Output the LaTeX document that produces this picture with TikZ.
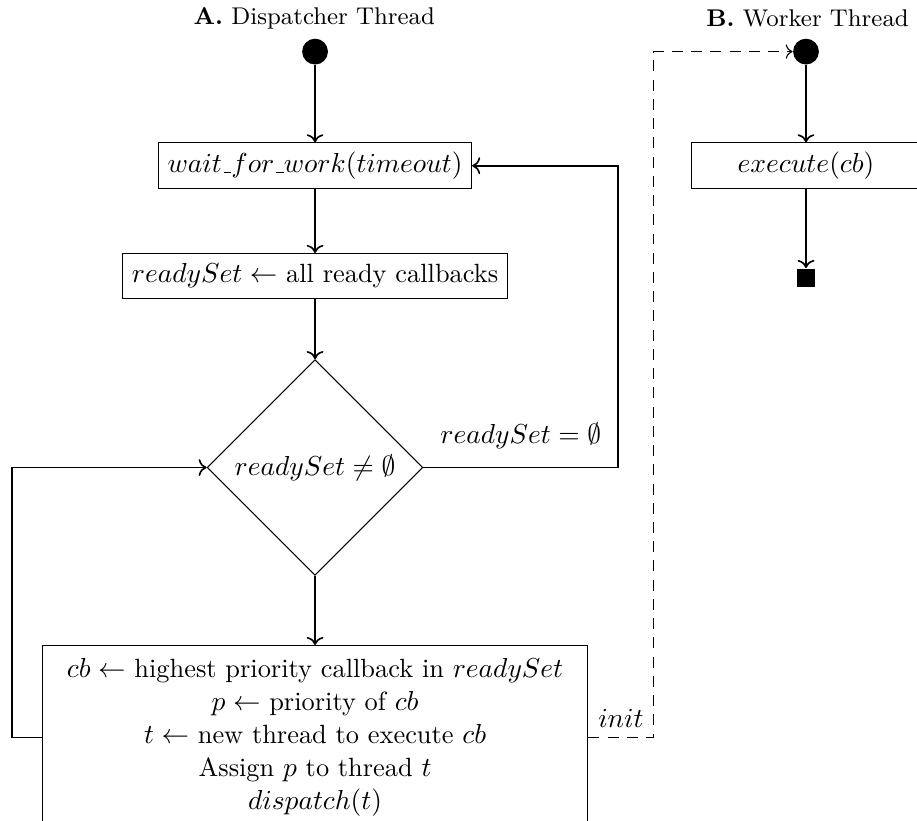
\documentclass[tikz,border=0pt]{standalone}
\usepackage{amsmath}
\usepackage{amssymb}
\usetikzlibrary{shapes,arrows,positioning}
\usetikzlibrary{arrows.meta}

% short underscore as in the original font
\newcommand{\ubar}{\kern.06em\vbox{\hrule width.3em}}

\begin{document}
\begin{tikzpicture}[
    every node/.style={font=\fontsize{9.6}{12}\selectfont},
    title/.style={font=\fontsize{8.8}{11}\selectfont},
    procbox/.style={rectangle, draw=black, thin, fill=white, minimum height=5.75mm},
    decision/.style={diamond, draw=black, thin, minimum size=27.6mm, inner sep=0pt},
    initdot/.style={circle, fill=black, minimum size=3.3mm, inner sep=0pt},
    finaldot/.style={rectangle, fill=black, minimum size=2.3mm, inner sep=0pt},
    flowarrow/.style={->, semithick},
    initarrow/.style={->, thin, dashed, dash pattern=on 4pt off 3pt}
]

% fixed frame of the picture
\useasboundingbox (0,0) rectangle (11.73,-10.50);

% A: dispatcher thread
\node[title] (titleA) at (4.02,-0.23) {\textbf{A.} Dispatcher Thread};
\node[initdot] (startA) at (4.03,-0.66) {};
\node[procbox] (waitwork) at (4.03,-2.12) {$wait\ubar for\ubar work(timeout)$};
\node[procbox] (collect) at (4.03,-3.53) {$readySet \leftarrow$ all ready callbacks};
\node[decision] (check) at (4.03,-5.98) {$readySet \neq \emptyset$};
\node[procbox, align=center, anchor=north, minimum width=6.98cm, minimum height=2.35cm] (dispatchbox) at (4.03,-8.25)
    {$cb \leftarrow$ highest priority callback in $readySet$\\
     $p \leftarrow$ priority of $cb$\\
     $t \leftarrow$ new thread to execute $cb$\\
     Assign $p$ to thread $t$\\
     $dispatch(t)$};

% B: worker thread
\node[title] (titleB) at (10.33,-0.23) {\textbf{B.} Worker Thread};
\node[initdot] (startB) at (10.31,-0.66) {};
\node[procbox, minimum width=2.92cm] (execbox) at (10.31,-2.12) {$execute(cb)$};
\node[finaldot] (stopB) at (10.31,-3.55) {};

% main flow
\draw[flowarrow] (startA) -- (waitwork);
\draw[flowarrow] (waitwork) -- (collect);
\draw[flowarrow] (collect) -- (check);
\draw[flowarrow] (check) -- (dispatchbox);

% loops back
\draw[flowarrow] (check.east) -- ++(2.49,0) node[pos=0.5, above=3pt] {$readySet = \emptyset$} |- (waitwork.east);
\draw[flowarrow] (dispatchbox.west) -- ++(-0.38,0) |- (check.west);

% spawn worker
\draw[initarrow] (dispatchbox.east) -- ++(0.83,0) node[pos=1, above left] {$init$} |- (startB.west);

\draw[flowarrow] (startB) -- (execbox);
\draw[flowarrow] (execbox) -- (stopB);

\end{tikzpicture}
\end{document}
